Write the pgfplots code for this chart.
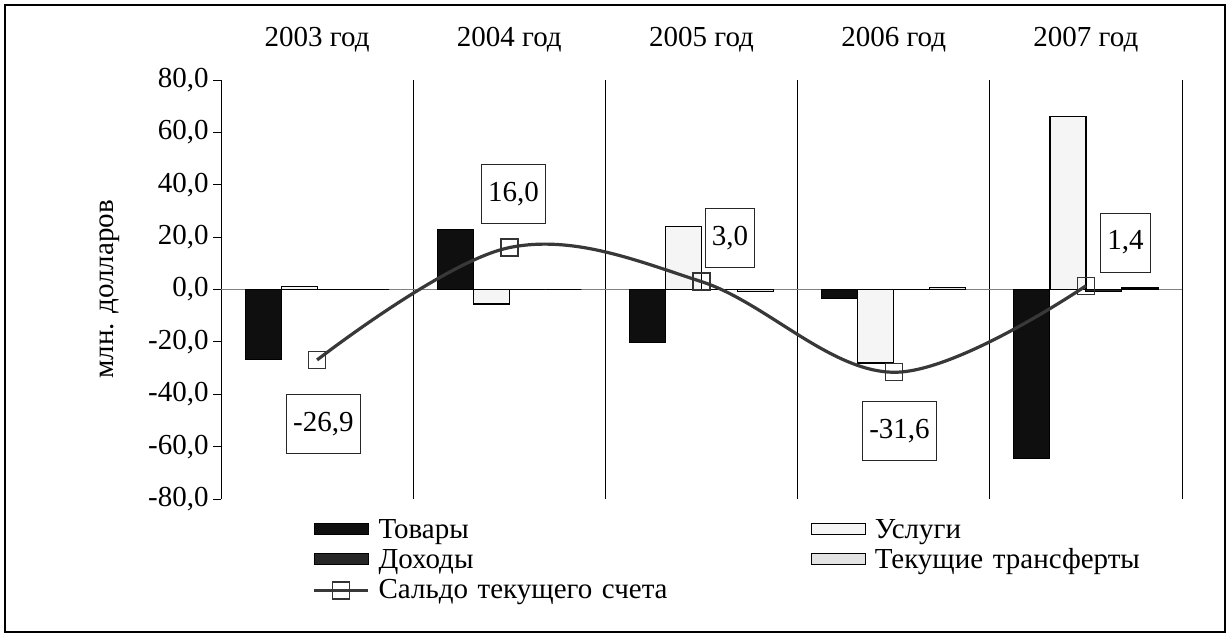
\documentclass[border=0pt]{standalone}
\usepackage{fontspec}
\setmainfont{Liberation Serif}
\usepackage{pgfplots}
\pgfplotsset{compat=1.18}
\pgfplotsset{
  barleg/.style={legend image code/.code={\draw[##1] (0pt,2pt) rectangle (27pt,7.5pt);}},
  lineleg/.style={legend image code/.code={\draw[##1, mark repeat=2, mark phase=2] plot coordinates {(0pt,4pt) (13.5pt,4pt) (27pt,4pt)};}}
}
\begin{document}
\begin{tikzpicture}[font=\fontsize{14.5}{17}\selectfont]
\useasboundingbox (0pt,0pt) rectangle (615pt,318.5pt);
\draw[line width=0.8pt] (2.5pt,2.5pt) rectangle (612.5pt,316pt);
\begin{axis}[
  at={(110.5pt,69pt)}, anchor=south west,
  scale only axis, width=480.5pt, height=209.5pt,
  xmin=-0.5, xmax=4.5, ymin=-80, ymax=80,
  axis y line*=left, axis x line*=top,
  x axis line style={draw=none},
  y axis line style={black, line width=0.5pt},
  xtick={0,1,2,3,4},
  xticklabels={2003 год,2004 год,2005 год,2006 год,2007 год},
  xtick style={draw=none},
  xticklabel style={anchor=base, yshift=12.5pt},
  extra x ticks={0.5,1.5,2.5,3.5,4.5},
  extra x tick labels={},
  extra x tick style={grid=major, major grid style={black, line width=0.5pt}, tick style={draw=none}},
  ytick={-80,-60,...,80},
  extra y ticks={0}, extra y tick labels={},
  extra y tick style={grid=major, major grid style={gray, line width=0.7pt}},
  tick align=outside, major tick length=4pt,
  ytick style={black, line width=0.5pt},
  yticklabel style={inner xsep=2pt, /pgf/number format/.cd, fixed, fixed zerofill, precision=1, use comma, assume math mode=true},
  ylabel={млн. долларов},
  ylabel style={at={(axis description cs:-0.1155,0.5)}, anchor=center},
  legend columns=2,
  legend style={draw=none, fill=none, inner sep=0pt, column sep=0pt, row sep=0pt,
    at={(0.0947,0)}, anchor=north west, yshift=-9pt,
    nodes={inner sep=0pt, text height=10.5pt, text depth=4.5pt, anchor=base west},
    /tikz/every odd column/.append style={column sep=4.5pt},
    /tikz/every even column/.append style={text width=216pt}},
  legend cell align=left,
]
\addplot[ybar, bar width=18pt, bar shift=-27pt, fill=black!94, draw=black, line width=0.5pt, barleg]
  coordinates {(0,-26.9) (1,23.1) (2,-20.4) (3,-3.6) (4,-64.7)};
\addlegendentry{Товары}
\addplot[ybar, bar width=18pt, bar shift=-9pt, fill=gray!8, draw=black, line width=0.6pt, barleg]
  coordinates {(0,1.1) (1,-5.5) (2,24.2) (3,-28.1) (4,66.2)};
\addlegendentry{Услуги}
\addplot[ybar, bar width=18pt, bar shift=9pt, fill=black!85, draw=black, line width=0.5pt, barleg]
  coordinates {(0,0) (1,0) (2,0) (3,0) (4,-0.8)};
\addlegendentry{Доходы}
\addplot[ybar, bar width=18pt, bar shift=27pt, fill=gray!22, draw=black, line width=0.6pt, barleg]
  coordinates {(0,0) (1,0) (2,-0.8) (3,0.7) (4,0.6)};
\addlegendentry{Текущие трансферты}
\addplot[smooth, tension=0.6, color=black!78, line width=1.6pt,
  mark=square, mark size=4.25pt, mark options={solid, fill=none, draw=black!80, line width=0.7pt}, lineleg]
  coordinates {(0,-26.9) (1,16.0) (2,3.0) (3,-31.6) (4,1.4)};
\addlegendentry{Сальдо текущего счета}
\begin{scope}[every node/.style={draw=black!85, line width=0.5pt, fill=white, minimum height=29.5pt, inner xsep=3.2pt, inner ysep=0pt}]
\node at (axis cs:0.033,-51.5) {-26,9};
\node at (axis cs:1.022,36.3) {16,0};
\node at (axis cs:2.148,19.5) {3,0};
\node at (axis cs:3.030,-54.0) {-31,6};
\node at (axis cs:4.206,17.9) {1,4};
\end{scope}
\end{axis}
\end{tikzpicture}
\end{document}
